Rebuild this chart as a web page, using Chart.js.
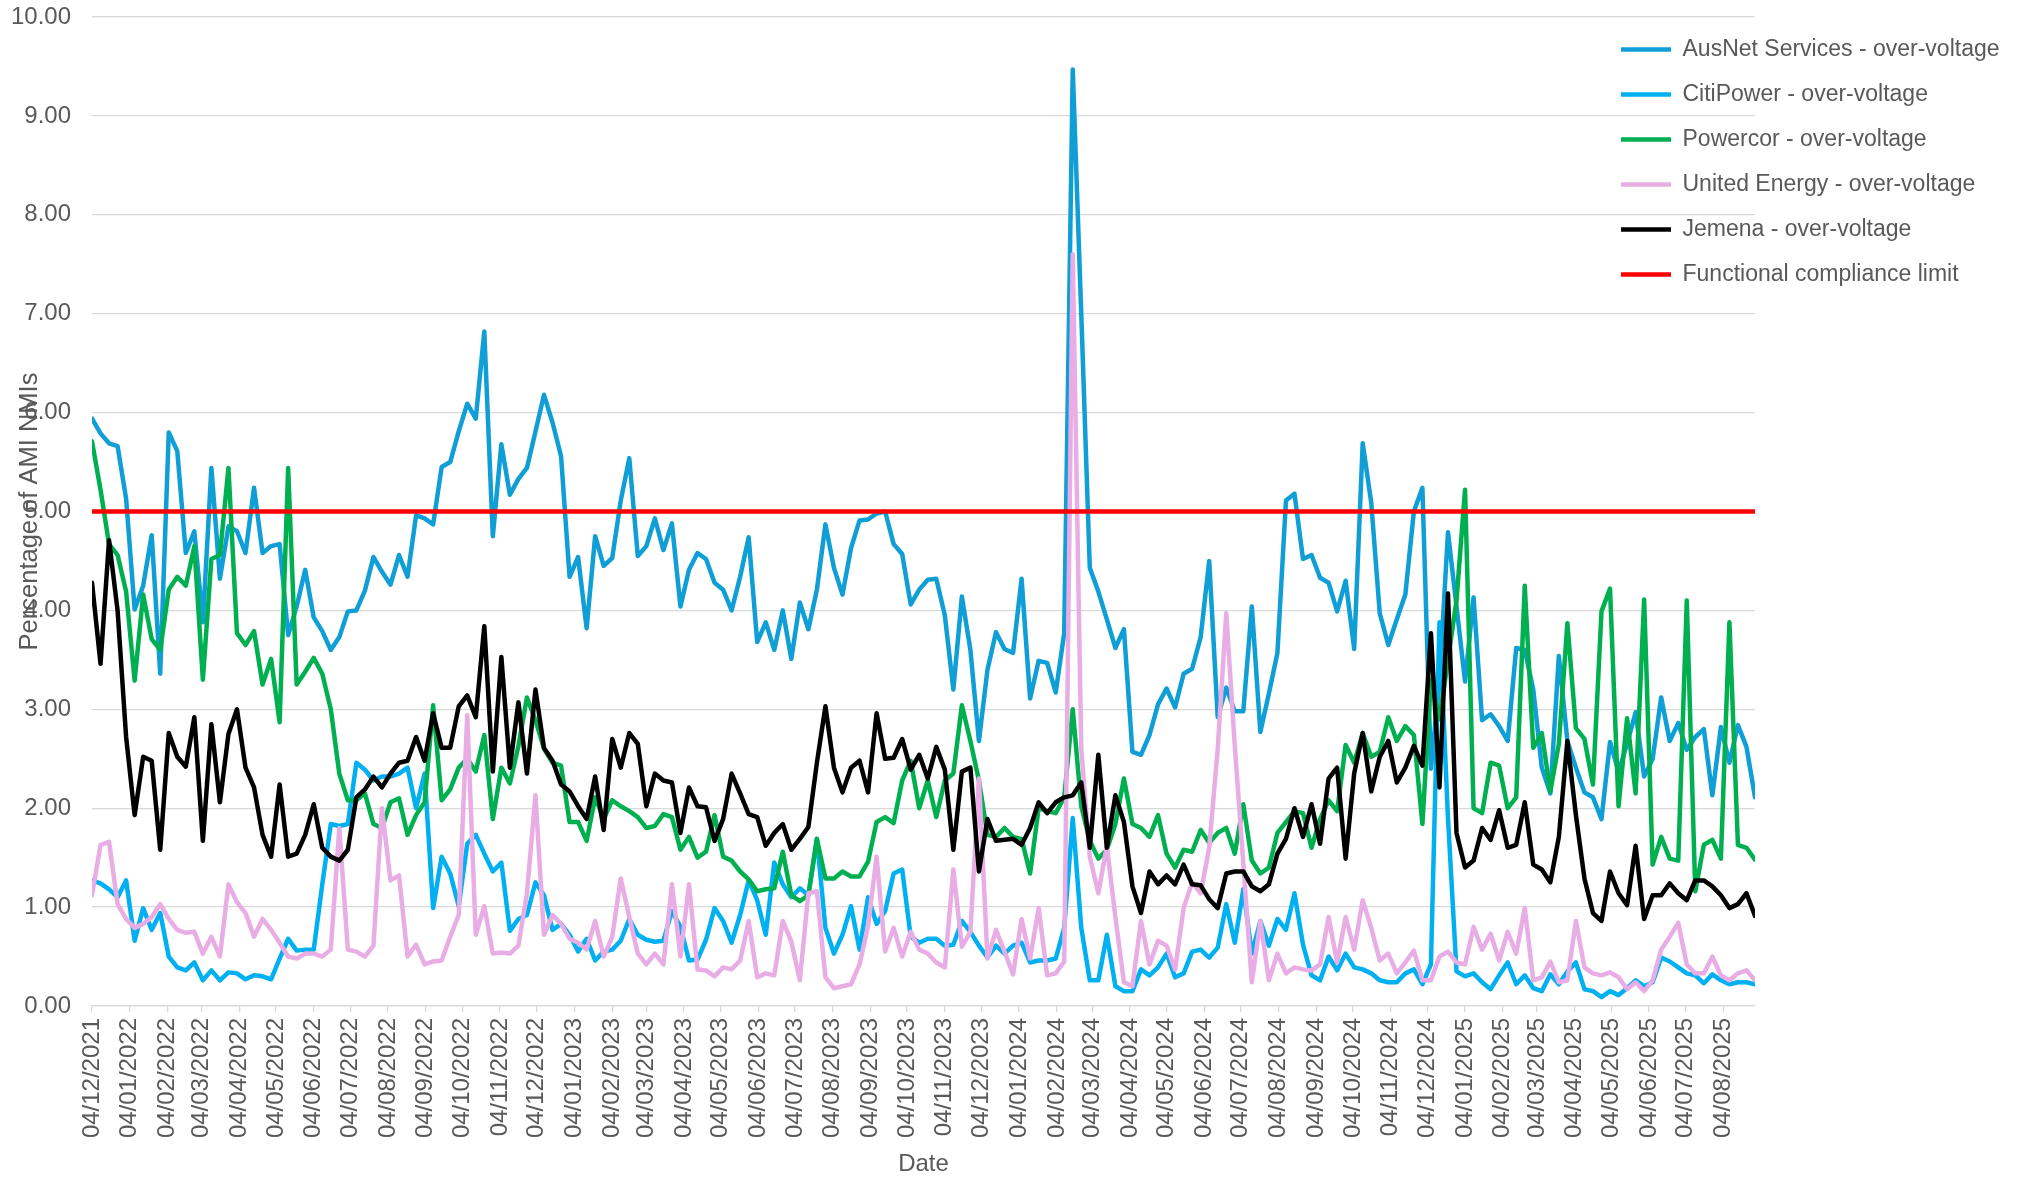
<!DOCTYPE html>
<html>
<head>
<meta charset="utf-8">
<script src="https://cdn.jsdelivr.net/npm/chart.js@4.4.1/dist/chart.umd.min.js"></script>
<style>
html,body{margin:0;padding:0;background:#ffffff;}
#wrap{width:2020px;height:1179px;position:relative;}
</style>
</head>
<body>
<div id="wrap"><canvas id="c" width="2020" height="1179"></canvas></div>
<script>
// ---- DATA ----
const startDate = '04/12/2021';   // first weekly observation
const weekStepDays = 7;

const ausnet = [5.94,5.79,5.69,5.66,5.13,4.01,4.25,4.76,3.36,5.80,
 5.61,4.58,4.80,3.88,5.44,4.32,4.85,4.80,4.58,5.24,
 4.58,4.65,4.67,3.75,4.04,4.41,3.93,3.79,3.60,3.73,
 3.99,4.00,4.20,4.54,4.39,4.26,4.56,4.34,4.96,4.93,
 4.87,5.45,5.50,5.81,6.09,5.94,6.82,4.75,5.68,5.17,
 5.33,5.44,5.81,6.18,5.90,5.56,4.34,4.54,3.82,4.75,
 4.45,4.53,5.11,5.54,4.55,4.65,4.93,4.61,4.88,4.04,
 4.41,4.58,4.52,4.28,4.21,4.00,4.34,4.74,3.68,3.88,
 3.60,4.00,3.51,4.08,3.81,4.21,4.87,4.43,4.16,4.63,
 4.91,4.92,4.98,5.00,4.67,4.57,4.06,4.21,4.31,4.32,
 3.95,3.20,4.14,3.60,2.68,3.40,3.78,3.61,3.57,4.32,
 3.11,3.49,3.47,3.17,3.77,9.47,7.00,4.43,4.19,3.91,
 3.62,3.81,2.57,2.54,2.74,3.05,3.21,3.02,3.36,3.41,
 3.73,4.50,2.92,3.22,2.98,2.98,4.04,2.77,3.16,3.57,
 5.11,5.18,4.52,4.56,4.33,4.28,3.99,4.30,3.61,5.69,
 5.09,3.97,3.65,3.91,4.16,5.00,5.24,2.40,3.30,4.79,
 4.04,3.28,4.13,2.89,2.95,2.83,2.68,3.62,3.60,3.20,
 2.41,2.15,3.54,2.68,2.41,2.16,2.11,1.89,2.67,2.37,
 2.65,2.97,2.32,2.50,3.12,2.68,2.86,2.59,2.72,2.80,
 2.13,2.82,2.46,2.84,2.62,2.11];

const citipower = [1.27,1.24,1.18,1.10,1.27,0.66,0.99,0.77,0.94,0.50,
 0.39,0.36,0.44,0.26,0.36,0.26,0.34,0.33,0.27,0.31,
 0.30,0.27,0.48,0.68,0.56,0.57,0.57,1.23,1.84,1.82,
 1.84,2.46,2.39,2.28,2.32,2.32,2.35,2.41,2.00,2.35,
 0.99,1.51,1.34,1.01,1.64,1.73,1.54,1.36,1.45,0.76,
 0.88,0.92,1.25,1.12,0.77,0.83,0.72,0.55,0.68,0.46,
 0.55,0.57,0.66,0.88,0.72,0.67,0.65,0.66,0.96,0.80,
 0.46,0.47,0.67,0.99,0.86,0.64,0.92,1.27,1.07,0.72,
 1.45,1.23,1.10,1.19,1.12,1.69,0.79,0.53,0.72,1.01,
 0.57,1.10,0.83,0.96,1.34,1.38,0.70,0.64,0.68,0.68,
 0.61,0.62,0.86,0.75,0.61,0.49,0.61,0.53,0.61,0.64,
 0.44,0.46,0.46,0.48,0.79,1.90,0.79,0.26,0.26,0.72,
 0.20,0.15,0.15,0.37,0.31,0.39,0.53,0.29,0.33,0.55,
 0.57,0.49,0.59,1.03,0.64,1.18,0.53,0.86,0.61,0.88,
 0.77,1.14,0.62,0.31,0.26,0.50,0.36,0.53,0.39,0.37,
 0.33,0.26,0.24,0.24,0.33,0.37,0.22,0.42,3.88,1.90,
 0.35,0.30,0.33,0.24,0.17,0.31,0.44,0.22,0.31,0.18,
 0.15,0.32,0.22,0.35,0.44,0.17,0.15,0.09,0.15,0.11,
 0.18,0.26,0.20,0.24,0.49,0.45,0.39,0.33,0.31,0.23,
 0.32,0.26,0.22,0.24,0.24,0.22];

const powercor = [5.71,5.22,4.67,4.56,4.19,3.29,4.16,3.71,3.60,4.21,
 4.34,4.25,4.65,3.30,4.52,4.56,5.44,3.77,3.65,3.79,
 3.25,3.51,2.87,5.44,3.25,3.38,3.52,3.36,3.00,2.35,
 2.08,2.08,2.15,1.84,1.80,2.06,2.10,1.73,1.93,2.06,
 3.04,2.08,2.19,2.41,2.50,2.37,2.74,1.89,2.41,2.25,
 2.63,3.12,2.89,2.60,2.46,2.43,1.86,1.86,1.67,2.11,
 1.89,2.08,2.02,1.97,1.91,1.80,1.82,1.94,1.91,1.58,
 1.71,1.50,1.56,1.93,1.51,1.47,1.36,1.28,1.16,1.18,
 1.19,1.56,1.12,1.06,1.12,1.69,1.29,1.29,1.36,1.31,
 1.31,1.46,1.86,1.91,1.85,2.28,2.48,2.00,2.28,1.91,
 2.28,2.35,3.04,2.68,2.28,1.73,1.71,1.80,1.71,1.69,
 1.34,2.00,1.97,1.95,2.11,3.00,2.02,1.67,1.49,1.58,
 1.84,2.30,1.84,1.80,1.71,1.93,1.54,1.40,1.58,1.56,
 1.78,1.65,1.75,1.80,1.54,2.04,1.47,1.34,1.40,1.75,
 1.86,1.97,1.95,1.60,1.89,2.08,1.97,2.64,2.46,2.76,
 2.52,2.57,2.92,2.68,2.83,2.74,1.84,3.30,2.90,3.50,
 4.10,5.22,2.00,1.95,2.46,2.43,2.00,2.11,4.25,2.61,
 2.76,2.17,2.65,3.87,2.81,2.70,2.24,3.99,4.22,2.02,
 2.91,2.15,4.11,1.43,1.71,1.49,1.47,4.10,1.16,1.63,
 1.68,1.49,3.88,1.63,1.60,1.48];

const unitedEnergy = [1.12,1.63,1.66,1.03,0.88,0.79,0.83,0.90,1.03,0.88,
 0.77,0.74,0.75,0.53,0.70,0.50,1.23,1.05,0.94,0.70,
 0.88,0.77,0.64,0.50,0.48,0.53,0.53,0.50,0.57,1.80,
 0.57,0.55,0.50,0.61,2.00,1.27,1.32,0.50,0.62,0.42,
 0.45,0.46,0.70,0.92,2.94,0.72,1.01,0.53,0.54,0.53,
 0.61,1.14,2.13,0.72,0.92,0.83,0.68,0.64,0.57,0.86,
 0.50,0.70,1.29,0.90,0.53,0.42,0.53,0.42,1.23,0.50,
 1.23,0.37,0.36,0.30,0.39,0.37,0.46,0.86,0.29,0.33,
 0.31,0.86,0.65,0.26,1.14,1.16,0.29,0.18,0.20,0.22,
 0.42,0.81,1.51,0.55,0.79,0.50,0.75,0.57,0.53,0.44,
 0.39,1.38,0.60,0.75,2.30,0.48,0.77,0.55,0.32,0.88,
 0.48,0.99,0.31,0.33,0.45,7.60,2.60,1.51,1.14,1.62,
 0.90,0.24,0.20,0.86,0.42,0.66,0.61,0.37,0.99,1.25,
 1.14,1.60,2.60,3.97,2.63,1.44,0.24,0.86,0.26,0.53,
 0.33,0.39,0.37,0.36,0.42,0.90,0.44,0.90,0.57,1.07,
 0.79,0.46,0.53,0.33,0.44,0.56,0.26,0.26,0.50,0.55,
 0.44,0.42,0.80,0.57,0.73,0.46,0.75,0.53,0.99,0.26,
 0.29,0.45,0.24,0.26,0.86,0.39,0.33,0.31,0.34,0.29,
 0.17,0.24,0.15,0.26,0.57,0.70,0.84,0.42,0.33,0.33,
 0.50,0.31,0.26,0.33,0.36,0.26];

const jemena = [4.28,3.46,4.71,4.00,2.72,1.93,2.52,2.48,1.58,2.76,
 2.52,2.42,2.92,1.67,2.85,2.06,2.75,3.00,2.41,2.21,
 1.73,1.51,2.24,1.51,1.54,1.73,2.04,1.60,1.51,1.47,
 1.58,2.11,2.19,2.32,2.21,2.35,2.46,2.48,2.72,2.48,
 2.96,2.61,2.61,3.03,3.14,2.92,3.84,2.37,3.53,2.41,
 3.07,2.35,3.20,2.61,2.48,2.24,2.17,2.02,1.89,2.32,
 1.78,2.70,2.41,2.76,2.65,2.02,2.35,2.28,2.26,1.75,
 2.21,2.02,2.01,1.67,1.89,2.35,2.15,1.94,1.91,1.62,
 1.75,1.84,1.58,1.69,1.81,2.46,3.03,2.41,2.16,2.41,
 2.48,2.16,2.96,2.50,2.51,2.70,2.39,2.54,2.30,2.62,
 2.39,1.58,2.37,2.41,1.36,1.89,1.67,1.68,1.69,1.63,
 1.80,2.06,1.95,2.06,2.11,2.13,2.26,1.60,2.54,1.60,
 2.13,1.86,1.21,0.94,1.36,1.23,1.32,1.23,1.43,1.23,
 1.22,1.08,0.99,1.34,1.36,1.36,1.21,1.16,1.23,1.54,
 1.69,2.00,1.71,2.04,1.64,2.30,2.41,1.49,2.35,2.76,
 2.17,2.52,2.68,2.26,2.41,2.63,2.43,3.77,2.21,4.17,
 1.75,1.40,1.47,1.80,1.68,1.98,1.60,1.63,2.06,1.43,
 1.38,1.25,1.71,2.68,1.93,1.29,0.94,0.86,1.36,1.14,
 1.02,1.62,0.88,1.12,1.12,1.24,1.14,1.07,1.27,1.27,
 1.21,1.12,0.99,1.03,1.14,0.91];

const complianceLimit = 5.00;

const seriesNames = [
  'AusNet Services - over-voltage',
  'CitiPower - over-voltage',
  'Powercor - over-voltage',
  'United Energy - over-voltage',
  'Jemena - over-voltage',
  'Functional compliance limit'
];

const xTickLabels = ['04/12/2021',
 '04/01/2022','04/02/2022','04/03/2022','04/04/2022','04/05/2022','04/06/2022','04/07/2022','04/08/2022','04/09/2022','04/10/2022','04/11/2022','04/12/2022',
 '04/01/2023','04/02/2023','04/03/2023','04/04/2023','04/05/2023','04/06/2023','04/07/2023','04/08/2023','04/09/2023','04/10/2023','04/11/2023','04/12/2023',
 '04/01/2024','04/02/2024','04/03/2024','04/04/2024','04/05/2024','04/06/2024','04/07/2024','04/08/2024','04/09/2024','04/10/2024','04/11/2024','04/12/2024',
 '04/01/2025','04/02/2025','04/03/2025','04/04/2025','04/05/2025','04/06/2025','04/07/2025','04/08/2025'];

const yMin = 0, yMax = 10, yStep = 1;
const xTitle = 'Date';
const yTitle = 'Percentage of AMI NMIs';

// ---- HELPERS ----
function parseDMY(s){ const p = s.split('/').map(Number); return Date.UTC(p[2], p[1]-1, p[0]); }
const t0 = parseDMY(startDate);
const dayOffset = s => Math.round((parseDMY(s) - t0) / 86400000);
const xDays = ausnet.map((_, i) => i * weekStepDays);   // weekly category positions
const lastDay = xDays[xDays.length - 1];
const toPoints = arr => arr.map((v, i) => ({x: xDays[i], y: v}));

const FONT = "'Liberation Sans', Arial, sans-serif";
const TXT = '#595959';

const colors = ['#0F9ED5', '#00B0F0', '#00B050', '#E9ADE5', '#000000', '#FF0000'];
const dataArrays = [ausnet, citipower, powercor, unitedEnergy, jemena];

const datasets = dataArrays.map((arr, k) => ({
  label: seriesNames[k],
  data: toPoints(arr),
  borderColor: colors[k],
  backgroundColor: colors[k],
  borderWidth: 4.5,
  order: 10 - k
}));
datasets.push({
  label: seriesNames[5],
  data: [{x: 0, y: complianceLimit}, {x: lastDay, y: complianceLimit}],
  borderColor: colors[5],
  backgroundColor: colors[5],
  borderWidth: 4.5,
  order: 1
});

// place the legend over the upper-right of the plot, as in the original
const legendShift = {
  id: 'legendShift',
  afterLayout(chart){
    const lg = chart.legend;
    if (!lg) return;
    const w = 419;
    lg.left = 1599; lg.right = 1599 + w; lg.width = w;
    lg.top = 16; lg.bottom = 16 + 400; lg.height = 400;
  }
};

new Chart(document.getElementById('c'), {
  type: 'line',
  data: { datasets },
  options: {
    responsive: false,
    animation: false,
    devicePixelRatio: 1,
    layout: { padding: { left: 11, top: 17, right: 0, bottom: 0 } },
    elements: {
      point: { radius: 0, hoverRadius: 0 },
      line: { tension: 0, borderJoinStyle: 'round', borderCapStyle: 'round', fill: false }
    },
    plugins: {
      legend: {
        position: 'right',
        align: 'start',
        maxWidth: 265,
        labels: {
          usePointStyle: true,
          pointStyle: 'line',
          pointStyleWidth: 50,
          padding: 22,
          color: TXT,
          font: { family: FONT, size: 23 },
          sort: (a, b) => a.datasetIndex - b.datasetIndex
        }
      },
      tooltip: { enabled: false }
    },
    scales: {
      x: {
        type: 'linear',
        min: 0,
        max: lastDay,
        afterBuildTicks: s => { s.ticks = xTickLabels.map(l => ({ value: dayOffset(l) })); },
        afterFit: s => { s.height = 173; },
        ticks: {
          autoSkip: false, maxRotation: 90, minRotation: 90, padding: 6,
          color: TXT, font: { family: FONT, size: 24 },
          callback: (v, i) => xTickLabels[i]
        },
        grid: { drawOnChartArea: false, drawTicks: true, tickLength: 6, color: '#D9D9D9', lineWidth: 1.3 },
        border: { display: true, color: '#D9D9D9', width: 1.3 },
        title: { display: true, text: xTitle, color: TXT, font: { family: FONT, size: 24 }, padding: { top: 8, bottom: 0 } }
      },
      y: {
        min: yMin, max: yMax,
        afterFit: s => { s.width = 81; s.paddingTop = 0; s.paddingBottom = 0; },
        ticks: { stepSize: yStep, padding: 21, color: TXT, font: { family: FONT, size: 24 }, callback: v => Number(v).toFixed(2) },
        grid: { color: '#D9D9D9', lineWidth: 1.3, drawTicks: false },
        border: { display: false },
        title: { display: true, text: yTitle, color: TXT, font: { family: FONT, size: 25.5 }, padding: { top: 4, bottom: 0 } }
      }
    }
  },
  plugins: [legendShift]
});
</script>
</body>
</html>
